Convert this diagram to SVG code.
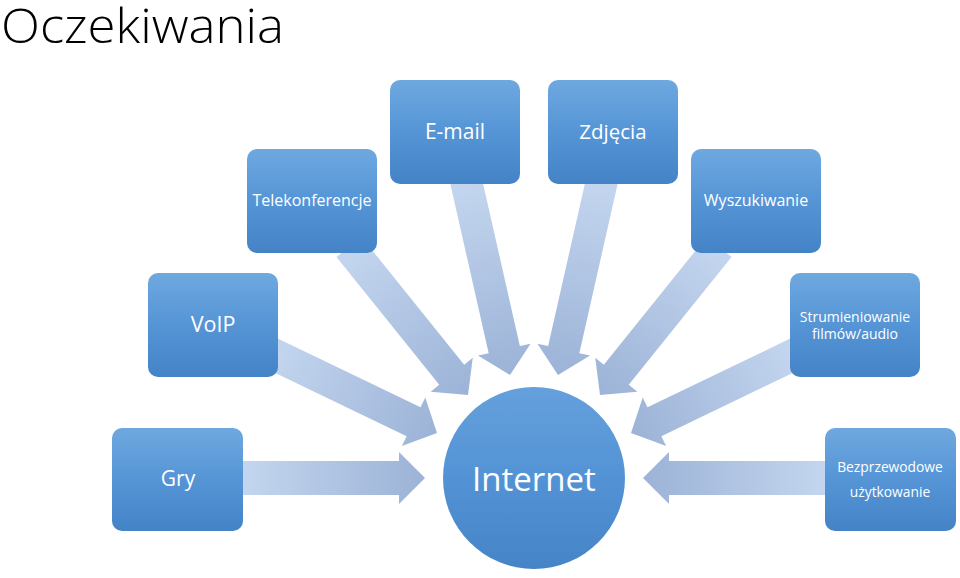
<svg xmlns="http://www.w3.org/2000/svg" width="960" height="578" viewBox="0 0 960 578">
<defs>
<linearGradient id="gBox" x1="0" y1="0" x2="0" y2="1">
<stop offset="0" stop-color="#6EA8DF"/>
<stop offset="0.5" stop-color="#5595D6"/>
<stop offset="1" stop-color="#4483C6"/>
</linearGradient>
<linearGradient id="gCirc" x1="0" y1="0" x2="0" y2="1">
<stop offset="0" stop-color="#64A0DC"/>
<stop offset="0.5" stop-color="#5393D5"/>
<stop offset="1" stop-color="#4584C7"/>
</linearGradient>
<linearGradient id="gArr" x1="0" y1="0" x2="1" y2="0">
<stop offset="0" stop-color="#C4D6EF"/>
<stop offset="1" stop-color="#9CB3D7"/>
</linearGradient>
<style>
.box{fill:url(#gBox);}
.arr{fill:url(#gArr);}
.t{fill:#FFFFFF;font-family:"Open Sans","Liberation Sans",sans-serif;text-anchor:middle;}
</style>
</defs>
<text x="1" y="43" font-family="Open Sans, Liberation Sans, sans-serif" font-weight="300" font-size="48" fill="#000000" textLength="283" lengthAdjust="spacingAndGlyphs">Oczekiwania</text>
<g id="connectors">
<path class="arr" transform="translate(510,375) rotate(77.25)" d="M-200,-16 L-26,-16 L-26,-27 L0,0 L-26,27 L-26,16 L-200,16 Z"/>
<path class="arr" transform="translate(558,375) rotate(102.75)" d="M-200,-16 L-26,-16 L-26,-27 L0,0 L-26,27 L-26,16 L-200,16 Z"/>
<path class="arr" transform="translate(468,395) rotate(51.2)" d="M-190,-16 L-26,-16 L-26,-27 L0,0 L-26,27 L-26,16 L-190,16 Z"/>
<path class="arr" transform="translate(600,395) rotate(128.8)" d="M-190,-16 L-26,-16 L-26,-27 L0,0 L-26,27 L-26,16 L-190,16 Z"/>
<path class="arr" transform="translate(437,433) rotate(25.7)" d="M-185,-16 L-26,-16 L-26,-27 L0,0 L-26,27 L-26,16 L-185,16 Z"/>
<path class="arr" transform="translate(631,433) rotate(154.3)" d="M-185,-16 L-26,-16 L-26,-27 L0,0 L-26,27 L-26,16 L-185,16 Z"/>
<path class="arr" transform="translate(425,478)" d="M-185,-17 L-26,-17 L-26,-26 L0,0 L-26,26 L-26,17 L-185,17 Z"/>
<path class="arr" transform="translate(643,478) rotate(180)" d="M-185,-17 L-26,-17 L-26,-26 L0,0 L-26,26 L-26,17 L-185,17 Z"/>
</g>
<g id="email"><rect class="box" x="390" y="80" width="130" height="104" rx="10"/><text class="t" x="455" y="139" font-size="21">E-mail</text></g>
<g id="zdjecia"><rect class="box" x="548" y="80" width="130" height="104" rx="10"/><text class="t" x="613" y="139" font-size="20.5">Zdjęcia</text></g>
<g id="telekonferencje"><rect class="box" x="247" y="149" width="130" height="104" rx="10"/><text class="t" x="312" y="206" font-size="16">Telekonferencje</text></g>
<g id="wyszukiwanie"><rect class="box" x="691" y="149" width="130" height="104" rx="10"/><text class="t" x="756" y="206" font-size="16">Wyszukiwanie</text></g>
<g id="voip"><rect class="box" x="148" y="273" width="130" height="104" rx="10"/><text class="t" x="213" y="332" font-size="21.5">VoIP</text></g>
<g id="strumieniowanie"><rect class="box" x="790" y="273" width="130" height="104" rx="10"/><text class="t" x="855" y="322" font-size="14">Strumieniowanie</text><text class="t" x="855" y="339" font-size="14">filmów/audio</text></g>
<g id="gry"><rect class="box" x="112" y="428" width="131" height="103" rx="10"/><text class="t" x="178" y="486" font-size="21">Gry</text></g>
<g id="bezprzewodowe"><rect class="box" x="825" y="428" width="131" height="103" rx="10"/><text class="t" x="890" y="472" font-size="13.8">Bezprzewodowe</text><text class="t" x="890" y="497" font-size="13.8">użytkowanie</text></g>
<g id="internet"><circle cx="534" cy="478" r="91" fill="url(#gCirc)"/><text class="t" x="534" y="491" font-size="33">Internet</text></g>
</svg>
